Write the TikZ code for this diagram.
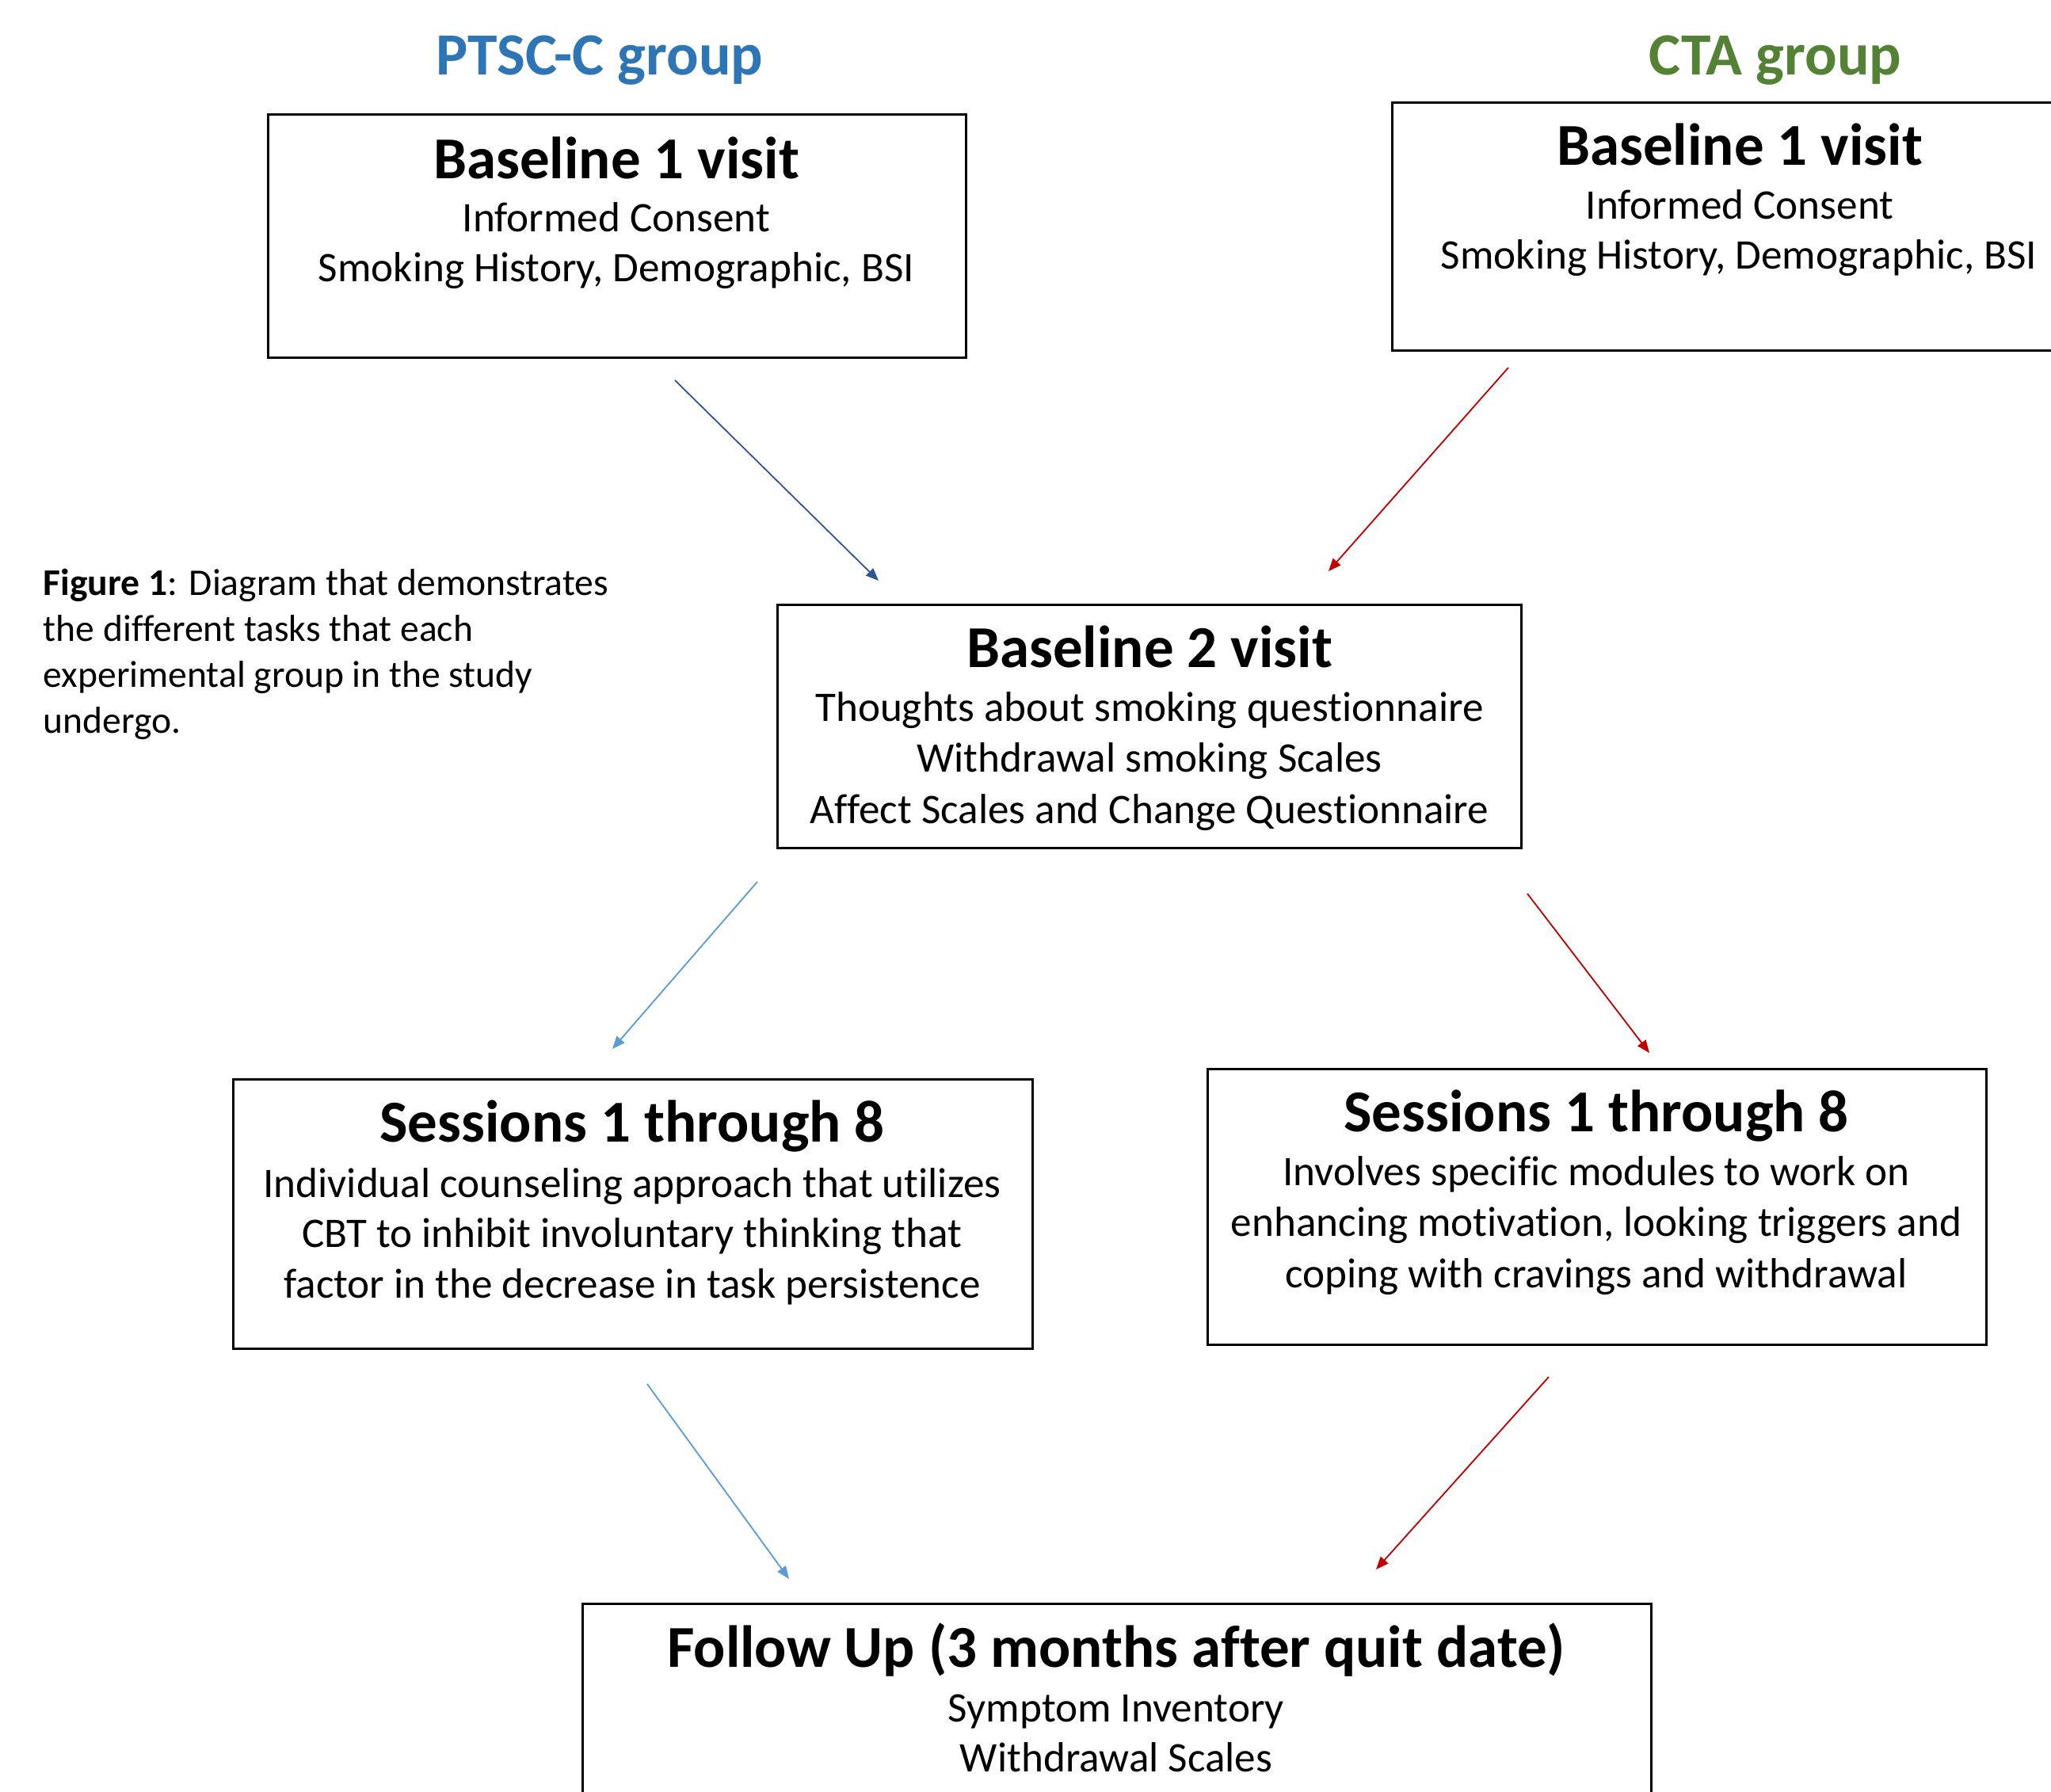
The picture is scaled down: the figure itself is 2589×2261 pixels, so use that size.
\documentclass[tikz,border=0pt]{standalone}
\usepackage{fontspec}
\setmainfont[Ligatures=NoCommon,Contextuals=NoAlternate]{Carlito}
\usetikzlibrary{arrows.meta}
\definecolor{ptsc}{HTML}{2E75B6}
\definecolor{cta}{HTML}{548235}
\definecolor{darkarrow}{HTML}{2F5597}
\definecolor{redarrow}{HTML}{C00000}
\definecolor{lightarrow}{HTML}{5B9BD5}
\tikzset{
  box/.style={draw=black, line width=0.75pt, inner sep=0pt, outer sep=0pt},
  ttl/.style={font=\fontsize{18.75}{22}\selectfont\bfseries, anchor=base, inner sep=0pt},
  body/.style={font=\fontsize{13.3}{16}\selectfont, anchor=base, inner sep=0pt},
  grp/.style={font=\fontsize{18.9}{22}\selectfont\bfseries, anchor=base, inner sep=0pt},
  capt/.style={font=\fontsize{11.9}{14.5}\selectfont, anchor=base west, inner sep=0pt},
  conn/.style={line width=0.45pt, -{Triangle[length=4pt,width=3.2pt]}},
}
\begin{document}
\begin{tikzpicture}[x=0.25pt,y=-0.25pt]
\clip (0,0) rectangle (2589,2261);
\fill[white] (0,0) rectangle (2589,2261);

% group titles
\node[grp, text=ptsc] (gl) at (757,94) {PTSC-C group};
\node[grp, text=cta] (gr) at (2241,94) {CTA group};

% boxes
\node[box, minimum width=220.25pt, minimum height=76.75pt] (lb1) at (778.5,297.5) {};
\node[box, minimum width=210.75pt, minimum height=78.25pt] (rb1) at (2178.5,285.5) {};
\node[box, minimum width=234.75pt, minimum height=76.75pt] (b2) at (1450.5,916.5) {};
\node[box, minimum width=252.25pt, minimum height=85pt] (ls) at (798.5,1532) {};
\node[box, minimum width=245.75pt, minimum height=87pt] (rs) at (2015.5,1523) {};
\node[box, minimum width=337.25pt, minimum height=66.5pt] (fu) at (1409.5,2157) {};

% left baseline 1
\node[ttl] (lb1t) at (778,225) {Baseline 1 visit};
\node[body] (lb1a) at (778,292) {Informed Consent};
\node[body] (lb1b) at (778,355) {Smoking History, Demographic, BSI};

% right baseline 1
\node[ttl] (rb1t) at (2196,208) {Baseline 1 visit};
\node[body] (rb1a) at (2196,276) {Informed Consent};
\node[body] (rb1b) at (2195,339) {Smoking History, Demographic, BSI};

% baseline 2
\node[ttl] (b2t) at (1451,842) {Baseline 2 visit};
\node[body] (b2a) at (1451,910) {Thoughts about smoking questionnaire};
\node[body] (b2b) at (1451,974) {Withdrawal smoking Scales};
\node[body] (b2c) at (1451,1039) {Affect Scales and Change Questionnaire};

% sessions left
\node[ttl] (lst) at (798,1441) {Sessions 1 through 8};
\node[body] (lsa) at (798,1511) {Individual counseling approach that utilizes};
\node[body] (lsb) at (798,1574) {CBT to inhibit involuntary thinking that};
\node[body] (lsc) at (798,1638) {factor in the decrease in task persistence};

% sessions right
\node[ttl] (rst) at (2015,1428) {Sessions 1 through 8};
\node[body] (rsa) at (2015,1496) {Involves specific modules to work on};
\node[body] (rsb) at (2015,1560) {enhancing motivation, looking triggers and};
\node[body] (rsc) at (2015,1625) {coping with cravings and withdrawal};

% follow up
\node[ttl] (fut) at (1409,2104) {Follow Up (3 months after quit date)};
\node[body] (fua) at (1409,2173) {Symptom Inventory};
\node[body] (fub) at (1409,2236) {Withdrawal Scales};

% caption
\node[capt] (c1) at (54,751) {\textbf{Figure 1}: Diagram that demonstrates};
\node[capt] (c2) at (54,809) {the different tasks that each};
\node[capt] (c3) at (54,867) {experimental group in the study};
\node[capt] (c4) at (54,925) {undergo.};

% arrow end points
\coordinate (a1s) at (852,480);  \coordinate (a1e) at (1109,733);
\coordinate (a2s) at (1904,464); \coordinate (a2e) at (1677,721);
\coordinate (a3s) at (956,1113); \coordinate (a3e) at (773,1324);
\coordinate (a4s) at (1928,1128);\coordinate (a4e) at (2082,1329);
\coordinate (a5s) at (817,1747); \coordinate (a5e) at (996,1993);
\coordinate (a6s) at (1955,1738);\coordinate (a6e) at (1737,1981);

\draw[conn, darkarrow] (a1s) -- (a1e);
\draw[conn, redarrow] (a2s) -- (a2e);
\draw[conn, lightarrow] (a3s) -- (a3e);
\draw[conn, redarrow] (a4s) -- (a4e);
\draw[conn, lightarrow] (a5s) -- (a5e);
\draw[conn, redarrow] (a6s) -- (a6e);
\end{tikzpicture}
\end{document}
